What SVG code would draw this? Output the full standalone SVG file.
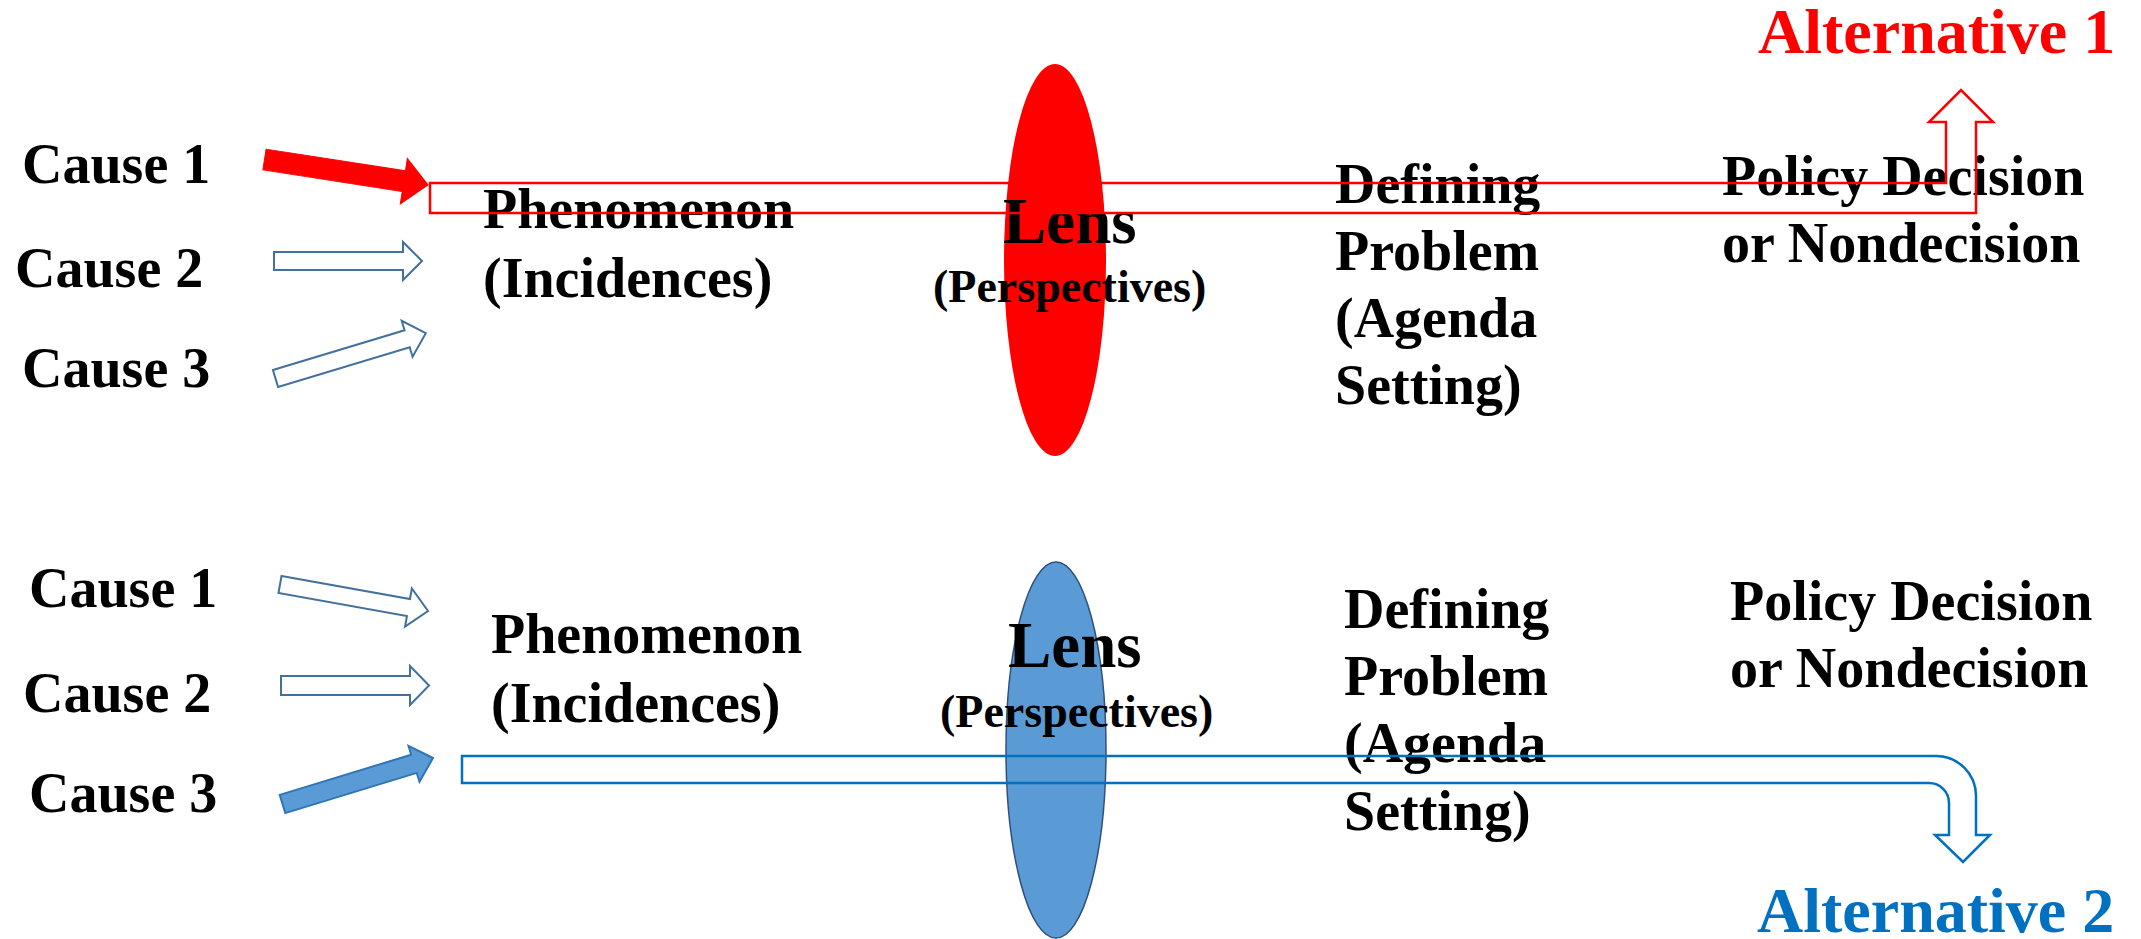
<svg xmlns="http://www.w3.org/2000/svg" width="2141" height="939" viewBox="0 0 2141 939">
<style>
text{font-family:"Liberation Serif","Times New Roman",serif;font-weight:bold;fill:#000}
.t{font-size:56px}
.lens{font-size:65px}
.persp{font-size:46px}
.alt{font-size:64px}
.red{fill:#ff0000}
.blue{fill:#0070c0}
.outl{fill:#fff;stroke:#41719c;stroke-width:2}
.redfill{fill:#ff0000;stroke:#ff0000;stroke-width:1}
.bluefill{fill:#5b9bd5;stroke:#2e75b6;stroke-width:2}
.bentred{fill:none;stroke:#ff0000;stroke-width:2.5}
.bentblue{fill:none;stroke:#0070c0;stroke-width:2.5}
</style>
<rect width="2141" height="939" fill="#fff"/>
<!-- top row -->
<g id="lens1">
<ellipse cx="1055" cy="260" rx="51" ry="196" fill="#ff0000"/>
<text class="lens" x="1003" y="243">Lens</text>
<text class="persp" x="933" y="302">(Perspectives)</text>
</g>
<g id="cause1a"><text class="t" x="22" y="183">Cause 1</text></g>
<g id="cause2a"><text class="t" x="15" y="287">Cause 2</text></g>
<g id="cause3a"><text class="t" x="22" y="387">Cause 3</text></g>
<g id="phen1"><text class="t" x="483" y="228">Phenomenon</text><text class="t" x="483" y="297">(Incidences)</text></g>
<g id="def1"><text class="t" x="1335" y="203">Defining</text><text class="t" x="1335" y="270">Problem</text><text class="t" x="1335" y="337">(Agenda</text><text class="t" x="1335" y="404">Setting)</text></g>
<g id="policy1"><text class="t" x="1722" y="195">Policy Decision</text><text class="t" x="1722" y="262">or Nondecision</text></g>
<g id="alt1"><text class="alt red" x="1758" y="53">Alternative 1</text></g>
<!-- bottom row -->
<g id="lens2">
<ellipse cx="1056" cy="750" rx="50" ry="188" fill="#5b9bd5" stroke="#2f4f7f" stroke-width="1.5"/>
<text class="lens" x="1008" y="667">Lens</text>
<text class="persp" x="940" y="727">(Perspectives)</text>
</g>
<g id="cause1b"><text class="t" x="29" y="607">Cause 1</text></g>
<g id="cause2b"><text class="t" x="23" y="712">Cause 2</text></g>
<g id="cause3b"><text class="t" x="29" y="812">Cause 3</text></g>
<g id="phen2"><text class="t" x="491" y="653">Phenomenon</text><text class="t" x="491" y="722">(Incidences)</text></g>
<g id="def2"><text class="t" x="1344" y="628">Defining</text><text class="t" x="1344" y="695">Problem</text><text class="t" x="1344" y="762">(Agenda</text><text class="t" x="1344" y="830">Setting)</text></g>
<g id="policy2"><text class="t" x="1730" y="620">Policy Decision</text><text class="t" x="1730" y="687">or Nondecision</text></g>
<g id="alt2"><text class="alt blue" x="1757" y="932">Alternative 2</text></g>
<g id="connectors">
<!-- top causes -->
<g transform="translate(264.5,159.5) rotate(8.86)"><polygon class="redfill" points="0,-10.5 141,-10.5 141,-23 165.5,0 141,23 141,10.5 0,10.5"/></g>
<polygon class="outl" points="274,252 403,252 403,242 422,261 403,280 403,270 274,270"/>
<g transform="translate(275.5,378.5) rotate(-16.8)"><polygon class="outl" points="0,-8.9 137.5,-8.9 137.5,-18.8 157,0 137.5,18.8 137.5,8.9 0,8.9"/></g>
<!-- bottom causes -->
<g transform="translate(280,584.5) rotate(10.15)"><polygon class="outl" points="0,-8.6 130.5,-8.6 130.5,-19.3 150.4,0 130.5,19.3 130.5,8.6 0,8.6"/></g>
<polygon class="outl" points="281,676 410,676 410,666 429,685.5 410,705 410,695 281,695"/>
<g transform="translate(282.5,804) rotate(-17)"><polygon class="bluefill" points="0,-9.5 137.5,-9.5 137.5,-18.7 157.4,0 137.5,18.7 137.5,9.5 0,9.5"/></g>
<!-- bent arrows -->
<path class="bentred" d="M430,183 H1946 V122 H1929 L1961,90 L1993,122 H1976 V213 H430 Z"/>
<path class="bentblue" d="M462,756 H1936 A40,40 0 0 1 1976,796 V835 H1990 L1963,862 L1935,835 H1949 V803 A20,20 0 0 0 1929,783 H462 Z"/>
</g>
</svg>
